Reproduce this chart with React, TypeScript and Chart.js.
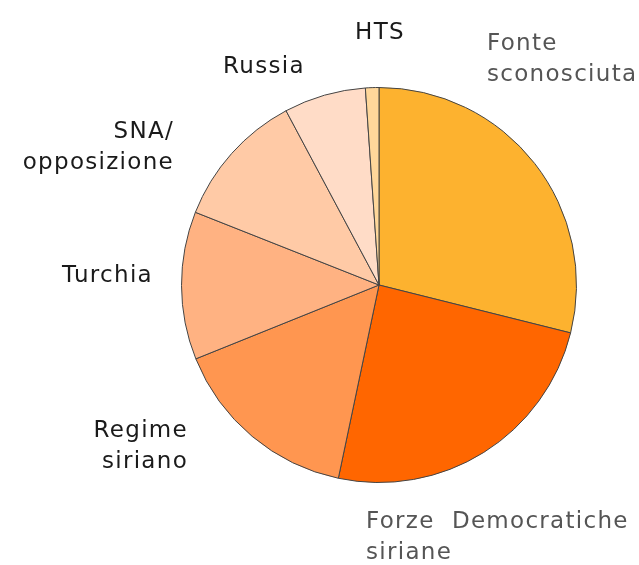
import React, { useEffect, useRef } from "react";
import { Chart, registerables } from "chart.js";

Chart.register(...registerables);

const categories = [
  "Fonte sconosciuta",
  "Forze Democratiche siriane",
  "Regime siriano",
  "Turchia",
  "SNA/opposizione",
  "Russia",
  "HTS",
];
const values = [28.9, 24.4, 15.6, 12.1, 11.2, 6.7, 1.1];
const colors = ["#FDB22F", "#FF6600", "#FF9650", "#FFB282", "#FFCAA6", "#FFDCC7", "#FFD79A"];
const labelLines = [
  ["Fonte", "sconosciuta"],
  ["Forze  Democratiche", "siriane"],
  ["Regime", "siriano"],
  ["Turchia"],
  ["SNA/", "opposizione"],
  ["Russia"],
  ["HTS"],
];
const labelColors = ["#555555", "#555555", "#1a1a1a", "#1a1a1a", "#1a1a1a", "#1a1a1a", "#1a1a1a"];

// text anchor placement for outside labels
const labelLayout = [
  { x: 487, y: 44, align: "left" },
  { x: 366, y: 522, align: "left" },
  { x: 188, y: 431, align: "right" },
  { x: 153, y: 276, align: "right" },
  { x: 174, y: 132, align: "right" },
  { x: 264, y: 67, align: "center" },
  { x: 380, y: 33, align: "center" },
];

const labelPlugin = {
  id: "outsideLabels",
  afterDraw(chart: any) {
    const ctx = chart.ctx;
    ctx.save();
    ctx.font = "23px 'DejaVu Sans'";
    (ctx as any).letterSpacing = "1.3px";
    ctx.textBaseline = "middle";
    labelLines.forEach((lines, i) => {
      const p = labelLayout[i];
      ctx.fillStyle = labelColors[i];
      ctx.textAlign = p.align;
      lines.forEach((t, j) => {
        ctx.fillText(t, p.x, p.y + j * 31);
      });
    });
    ctx.restore();
  },
};

export default function App() {
  const ref = useRef<HTMLCanvasElement>(null);
  useEffect(() => {
    if (!ref.current) return;
    const chart = new Chart(ref.current, {
      type: "pie",
      data: {
        labels: categories,
        datasets: [
          {
            data: values,
            backgroundColor: colors,
            borderColor: "#444444",
            borderWidth: 1,
          },
        ],
      },
      options: {
        animation: false,
        responsive: false,
        layout: { padding: { top: 87, bottom: 82, left: 181, right: 62 } },
        plugins: {
          legend: { display: false },
          tooltip: { enabled: false },
        },
      },
      plugins: [labelPlugin],
    });
    return () => chart.destroy();
  }, []);
  return (
    <div style={{ position: "fixed", left: 0, top: 0, width: 639, height: 565, background: "#fff" }}>
      <canvas ref={ref} width={639} height={565} />
    </div>
  );
}
